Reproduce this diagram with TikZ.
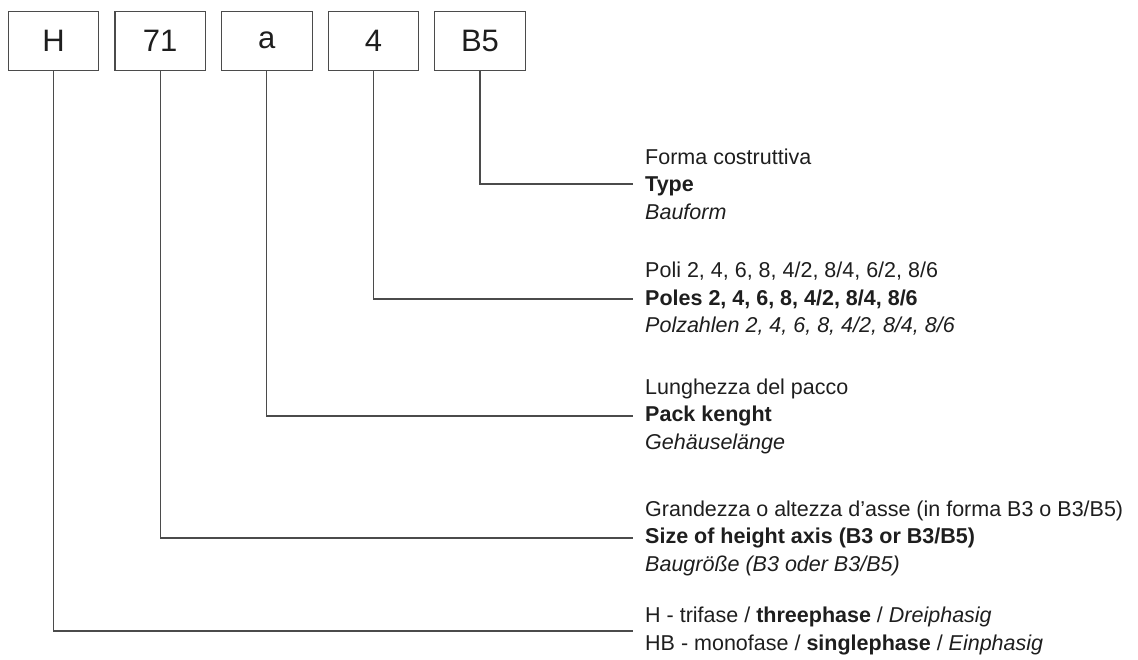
\documentclass[tikz,border=0pt]{standalone}
\usepackage{fontspec}
\setmainfont{Liberation Sans}
\usetikzlibrary{positioning}

\definecolor{inkgray}{RGB}{30,30,30}
\definecolor{linegray}{RGB}{75,75,75}

\begin{document}
\begin{tikzpicture}[x=1pt,y=-1pt,
    codebox/.style={draw=linegray,line width=1.1pt,minimum width=90.5pt,minimum height=58.5pt,
      inner sep=0pt,text=inkgray,font=\fontsize{31}{31}\selectfont},
    legend/.style={anchor=west,align=left,inner xsep=12pt,inner ysep=0pt,text=inkgray,
      font=\fontsize{21.5}{27.5}\selectfont},
    lead/.style={draw=linegray,line width=1.1pt}]
  \useasboundingbox (0,0) rectangle (1138,659);
  % code boxes
  \node[codebox] (bH) at (53.6,40.8) {H};
  \node[codebox,right=15pt of bH] (b71) {71};
  \node[codebox,right=15pt of b71] (ba) {a};
  \node[codebox,right=15pt of ba] (b4) {4};
  \node[codebox,right=15pt of b4] (bB5) {B5};
  % legends
  \node[legend] (tType) at (633,184) {Forma costruttiva\\ \textbf{Type}\\ \textit{Bauform}};
  \node[legend] (tPoles) at (633,299) {Poli 2, 4, 6, 8, 4/2, 8/4, 6/2, 8/6\\
    \textbf{Poles 2, 4, 6, 8, 4/2, 8/4, 8/6}\\ \textit{Polzahlen 2, 4, 6, 8, 4/2, 8/4, 8/6}};
  \node[legend] (tPack) at (633,416) {Lunghezza del pacco\\ \textbf{Pack kenght}\\ \textit{Gehäuselänge}};
  \node[legend] (tSize) at (633,538) {Grandezza o altezza d’asse (in forma B3 o B3/B5)\\
    \textbf{Size of height axis (B3 or B3/B5)}\\ \textit{Baugröße (B3 oder B3/B5)}};
  \node[legend] (tPhase) at (633,631) {H - trifase / \textbf{threephase} / \textit{Dreiphasig}\\
    HB - monofase / \textbf{singlephase} / \textit{Einphasig}};
  % leaders
  \draw[lead] (bB5.south) |- (tType.west);
  \draw[lead] (b4.south) |- (tPoles.west);
  \draw[lead] (ba.south) |- (tPack.west);
  \draw[lead] (b71.south) |- (tSize.west);
  \draw[lead] (bH.south) |- (tPhase.west);
\end{tikzpicture}
\end{document}
